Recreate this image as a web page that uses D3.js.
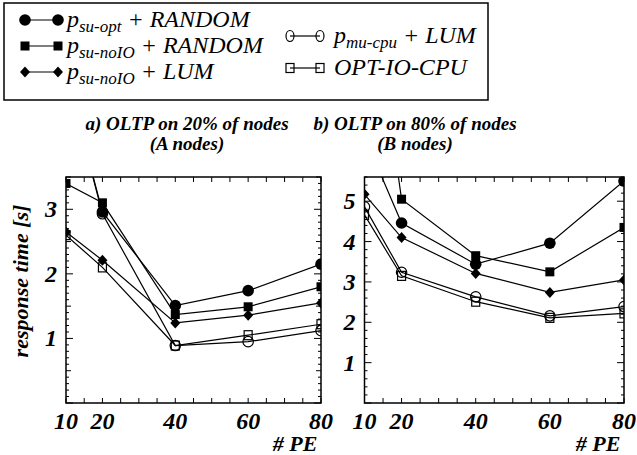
<!DOCTYPE html>
<html>
<head>
<meta charset="utf-8">
<script src="https://cdn.jsdelivr.net/npm/d3@7"></script>
<style>
  body { margin: 0; background: #fff; }
</style>
</head>
<body>
<script>
// number of PEs on the x axis
var peCounts = [ 10, 20, 40, 60, 80 ];

// a) OLTP on 20% of nodes (A nodes) - response time in s
var suOptRandomA   = [ 5.1, 2.96, 1.51, 1.74, 2.15 ];
var suNoIORandomA  = [ 3.40, 3.10, 1.37, 1.49, 1.80 ];
var suNoIOLumA     = [ 2.65, 2.21, 1.24, 1.36, 1.55 ];
var muCpuLumA      = [ 5.1, 2.93, 0.89, 0.95, 1.12 ];
var optIoCpuA      = [ 2.60, 2.10, 0.89, 1.05, 1.22 ];

// b) OLTP on 80% of nodes (B nodes)
var suOptRandomB   = [ 6.6, 4.46, 3.44, 3.96, 5.50 ];
var suNoIORandomB  = [ 11.5, 5.05, 3.65, 3.25, 4.35 ];
var suNoIOLumB     = [ 5.17, 4.10, 3.21, 2.74, 3.05 ];
var muCpuLumB      = [ 4.86, 3.24, 2.63, 2.16, 2.39 ];
var optIoCpuB      = [ 4.66, 3.15, 2.51, 2.11, 2.22 ];

// tick labels
var xTickLabels = [ 10, 20, 40, 60, 80 ];
var yTicksA = [ 1, 2, 3 ];
var yTicksB = [ 1, 2, 3, 4, 5 ];

// legend: base letter, subscript, rest
var legendBase = [ "p", "p", "p", "p", "OPT-IO-CPU" ];
var legendSub  = [ "su-opt", "su-noIO", "su-noIO", "mu-cpu", "" ];
var legendRest = [ " + RANDOM", " + RANDOM", " + LUM", " + LUM", "" ];

// marker shape per series (same order everywhere)
var shapes = [ "dot", "square", "diamond", "ring", "box" ];

var serif = "Liberation Serif";

var svg = d3.select( "body" )
            .append( "svg" )
              .attr( "width", 637 )
              .attr( "height", 455 );

// italic serif text helper
function label( g, size, bold ){
    return g.append( "text" )
            .style( "font-family", serif )
            .attr( "font-size", size )
            .attr( "font-weight", bold ? "bold" : "normal" )
            .attr( "font-style", "italic" );
}

// draws one marker, centred on x,y
function drawMarker( g, shape, x, y, legend ){
    if ( shape === "dot" ) {
        g.append( "circle" ).attr( "cx", x ).attr( "cy", y ).attr( "r", 5.8 ).attr( "fill", "#000" );
    } else if ( shape === "square" ) {
        g.append( "rect" ).attr( "x", x - 4.5 ).attr( "y", y - 4.5 )
         .attr( "width", 9 ).attr( "height", 9 ).attr( "fill", "#000" );
    } else if ( shape === "diamond" ) {
        g.append( "path" )
         .attr( "d", "M" + x + "," + ( y - 5.5 ) + "L" + ( x + 5 ) + "," + y +
                     "L" + x + "," + ( y + 5.5 ) + "L" + ( x - 5 ) + "," + y + "Z" )
         .attr( "fill", "#000" );
    } else if ( shape === "ring" ) {
        g.append( "ellipse" ).attr( "cx", x ).attr( "cy", y )
         .attr( "rx", legend ? 4 : 5.2 ).attr( "ry", legend ? 5.5 : 5.2 )
         .attr( "fill", "none" ).attr( "stroke", "#000" ).attr( "stroke-width", 1.2 );
    } else {
        g.append( "rect" ).attr( "x", x - 4 ).attr( "y", y - 4.5 )
         .attr( "width", 8 ).attr( "height", 9 )
         .attr( "fill", "none" ).attr( "stroke", "#000" ).attr( "stroke-width", 1.2 );
    }
}

function drawPanel( p ){
    var x = d3.scaleLinear().domain( [ 10, 80 ] ).range( [ p.left, p.right ] );
    var y = d3.scaleLinear().domain( [ 0, p.yMax ] ).range( [ p.bottom, p.top ] );
    var g = svg.append( "g" );

    // clip so lines leaving the top are cut at the frame
    var clipId = "clip-" + p.id;
    svg.append( "clipPath" ).attr( "id", clipId )
       .append( "rect" )
         .attr( "x", p.left ).attr( "y", p.top )
         .attr( "width", p.right - p.left ).attr( "height", p.bottom - p.top );

    // inward tick marks on all four sides
    var ticks = g.append( "g" ).attr( "stroke", "#000" ).attr( "stroke-width", 1 );
    d3.range( 10, 80.01, 5 ).forEach( function( v ){
        ticks.append( "line" ).attr( "x1", x( v ) ).attr( "x2", x( v ) )
             .attr( "y1", p.bottom ).attr( "y2", p.bottom - 5 );
        ticks.append( "line" ).attr( "x1", x( v ) ).attr( "x2", x( v ) )
             .attr( "y1", p.top ).attr( "y2", p.top + 5 );
    });
    d3.range( 0, p.yMax + 1e-9, p.minor ).forEach( function( v ){
        var r = Math.round( v * 10 ) / 10;
        var len = ( r % 1 === 0 ) ? 7 : ( ( r * 2 ) % 1 === 0 ? 5 : 3 );
        ticks.append( "line" ).attr( "x1", p.left ).attr( "x2", p.left + len )
             .attr( "y1", y( v ) ).attr( "y2", y( v ) );
        ticks.append( "line" ).attr( "x1", p.right ).attr( "x2", p.right - len )
             .attr( "y1", y( v ) ).attr( "y2", y( v ) );
    });

    // lines and markers
    var line = d3.line()
                 .x( function( d, i ){ return x( peCounts[ i ] ); } )
                 .y( function( d ){ return y( d ); } );
    var plot = g.append( "g" ).attr( "clip-path", "url(#" + clipId + ")" );
    p.series.forEach( function( values, s ){
        plot.append( "path" ).attr( "d", line( values ) )
            .attr( "fill", "none" ).attr( "stroke", "#000" ).attr( "stroke-width", 1.2 );
    });
    p.series.forEach( function( values, s ){
        values.forEach( function( v, i ){
            drawMarker( plot, shapes[ s ], x( peCounts[ i ] ), y( v ), false );
        });
    });

    // frame
    g.append( "rect" )
     .attr( "x", p.left ).attr( "y", p.top )
     .attr( "width", p.right - p.left ).attr( "height", p.bottom - p.top )
     .attr( "fill", "none" ).attr( "stroke", "#000" ).attr( "stroke-width", 1.5 );

    // tick labels
    xTickLabels.forEach( function( d ){
        label( g, 24, true )
          .attr( "x", x( d ) ).attr( "y", 429 )
          .attr( "text-anchor", "middle" )
          .text( d );
    });
    p.yTicks.forEach( function( d ){
        label( g, 24, true )
          .attr( "x", p.left - 9 ).attr( "y", y( d ) + 8 )
          .attr( "text-anchor", "end" )
          .text( d );
    });

    // two-line panel title
    label( g, 19, true ).attr( "x", p.titleX ).attr( "y", 130 )
      .attr( "text-anchor", "middle" ).text( p.title1 );
    label( g, 19, true ).attr( "x", p.titleX ).attr( "y", 150 )
      .attr( "text-anchor", "middle" ).text( p.title2 );

    label( g, 22, true )
      .attr( "x", p.right - 26 ).attr( "y", 451 )
      .attr( "text-anchor", "middle" )
      .text( "# PE" );
}

drawPanel({ id: "a", left: 66, right: 321, top: 177, bottom: 403, yMax: 3.5, minor: 0.1,
            yTicks: yTicksA, titleX: 187,
            title1: "a) OLTP on 20% of nodes", title2: "(A nodes)",
            series: [ suOptRandomA, suNoIORandomA, suNoIOLumA, muCpuLumA, optIoCpuA ] });
drawPanel({ id: "b", left: 364.5, right: 624, top: 177, bottom: 403, yMax: 5.6, minor: 0.2,
            yTicks: yTicksB, titleX: 415,
            title1: "b) OLTP on 80% of nodes", title2: "(B nodes)",
            series: [ suOptRandomB, suNoIORandomB, suNoIOLumB, muCpuLumB, optIoCpuB ] });

// y axis title
label( svg, 22, true )
   .attr( "transform", "translate(28,281) rotate(-90)" )
   .attr( "text-anchor", "middle" )
   .text( "response time [s]" );

// legend box
svg.append( "rect" )
   .attr( "x", 4 ).attr( "y", 3 ).attr( "width", 484 ).attr( "height", 97 )
   .attr( "fill", "none" ).attr( "stroke", "#000" ).attr( "stroke-width", 1.5 );

var legendPos = [
    { x1: 25, x2: 58, tx: 67, y: 20 },
    { x1: 25, x2: 58, tx: 67, y: 46 },
    { x1: 25, x2: 58, tx: 67, y: 72 },
    { x1: 290, x2: 320, tx: 334, y: 36 },
    { x1: 290, x2: 320, tx: 334, y: 68 }
];
var legend = svg.append( "g" );
legendPos.forEach( function( pos, i ){
    legend.append( "line" )
          .attr( "x1", pos.x1 ).attr( "x2", pos.x2 ).attr( "y1", pos.y ).attr( "y2", pos.y )
          .attr( "stroke", "#000" ).attr( "stroke-width", 1.2 );
    drawMarker( legend, shapes[ i ], pos.x1, pos.y, true );
    drawMarker( legend, shapes[ i ], pos.x2, pos.y, true );
    var txt = label( legend, 24, false ).attr( "x", pos.tx ).attr( "y", pos.y + 7 );
    txt.append( "tspan" ).text( legendBase[ i ] );
    if ( legendSub[ i ] ) {
        txt.append( "tspan" ).attr( "dy", 5 ).attr( "font-size", 17 ).text( legendSub[ i ] );
        txt.append( "tspan" ).attr( "dy", -5 ).text( legendRest[ i ] );
    }
});
</script>
</body>
</html>
